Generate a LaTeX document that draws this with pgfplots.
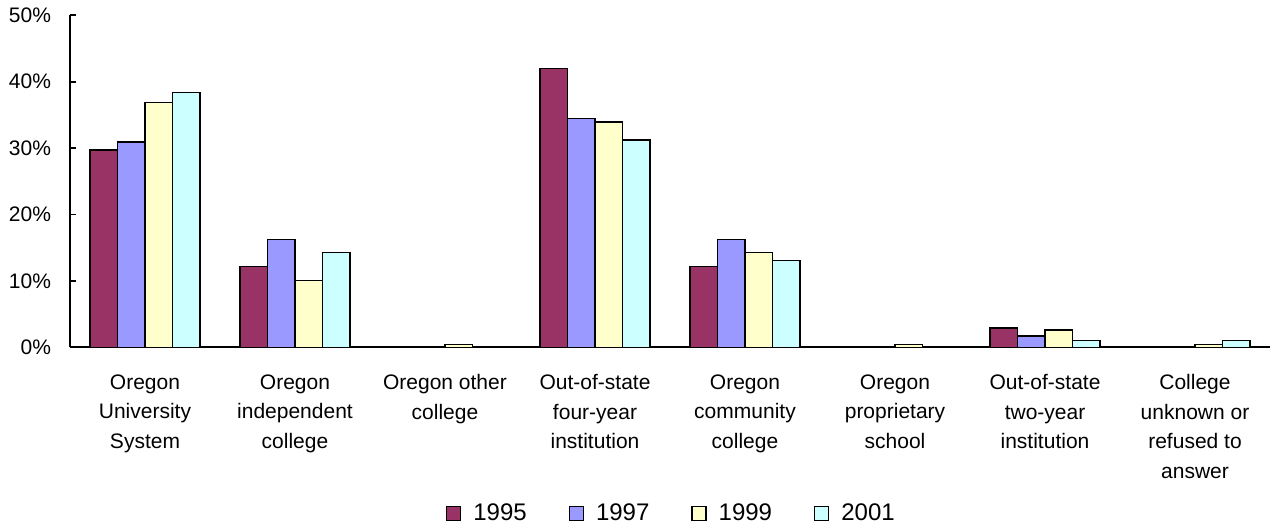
\documentclass[border=0pt]{standalone}
\usepackage{pgfplots}
\pgfplotsset{compat=1.18}
\usepackage{fontspec}
\setmainfont{Liberation Sans}
\definecolor{c95}{HTML}{993366}
\definecolor{c97}{HTML}{9999FF}
\definecolor{c99}{HTML}{FFFFCC}
\definecolor{c01}{HTML}{CCFFFF}
\begin{document}
\begin{tikzpicture}
\begin{axis}[name=ax, scale only axis, width=600pt, height=166pt,
  xmin=-0.5, xmax=7.5, ymin=0, ymax=50,
  axis lines*=left, axis line style={line width=0.9pt, black},
  ybar=0pt, bar width=13.75pt,
  xtick={0,...,7},
  xticklabels={Oregon\\University\\System, Oregon\\independent\\college, Oregon other\\college, Out-of-state\\four-year\\institution, Oregon\\community\\college, Oregon\\proprietary\\school, Out-of-state\\two-year\\institution, College\\unknown or\\refused to\\answer},
  x tick style={draw=none},
  xticklabel style={align=center, font=\fontsize{10.5}{14.75}\selectfont, yshift=-10pt},
  ytick={0,10,...,50},
  yticklabels={0\%,10\%,20\%,30\%,40\%,50\%},
  y tick style={line width=0.9pt, black},
  tick align=inside, major tick length=3pt,
  yticklabel style={font=\fontsize{10.5}{12}\selectfont, xshift=-6pt},
  legend columns=4,
  legend style={draw=none, at={(0.502,-0.501)}, anchor=center, font=\fontsize{12}{14}\selectfont,
    /tikz/every odd column/.append style={column sep=4pt},
    /tikz/every even column/.append style={column sep=19pt}},
  legend image code/.code={\draw[#1, line width=0.65pt] (0pt,-3.5pt) rectangle (7pt,3.5pt);},
  every axis plot/.append style={draw=black, line width=0.7pt},
]
\addplot[fill=c95] coordinates {(0,29.7) (1,12.2) (2,0) (3,42.0) (4,12.2) (5,0) (6,2.9) (7,0)};
\addplot[fill=c97] coordinates {(0,30.9) (1,16.2) (2,0) (3,34.5) (4,16.2) (5,0) (6,1.7) (7,0)};
\addplot[fill=c99] coordinates {(0,36.9) (1,10.1) (2,0.45) (3,33.9) (4,14.3) (5,0.45) (6,2.6) (7,0.45)};
\addplot[fill=c01] coordinates {(0,38.4) (1,14.3) (2,0) (3,31.2) (4,13.1) (5,0) (6,1.05) (7,1.05)};
\legend{1995,1997,1999,2001}
\end{axis}
\pgfresetboundingbox
\path ([xshift=-35pt, yshift=-90.85pt]ax.south west) rectangle ([xshift=1.5pt, yshift=7.65pt]ax.north east);
\end{tikzpicture}
\end{document}
